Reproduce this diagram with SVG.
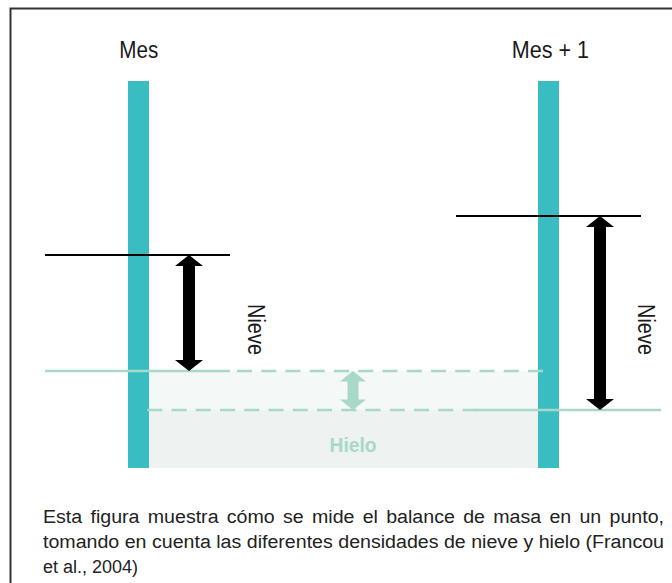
<svg xmlns="http://www.w3.org/2000/svg" width="672" height="583" viewBox="0 0 672 583">
  <style>
    .lbl { font-family: "Liberation Sans", Arial, sans-serif; fill: #1a1a1a; }
    .cap { font-family: "Liberation Sans", Arial, sans-serif; fill: #222; font-size: 18px; }
    .pole { fill: #3abdc2; }
    .blk { stroke: #000; stroke-width: 2; fill: none; }
    .grn { stroke: #a8d8c8; stroke-width: 2.5; fill: none; }
    .dash { stroke-dasharray: 15 9.25; }
  </style>
  <rect x="0" y="0" width="672" height="583" fill="#fff"/>
  <!-- frame -->
  <g id="frame">
    <path d="M10.5 583 V8.5 H672" stroke="#333" stroke-width="2" fill="none"/>
  </g>
  <!-- ice area fills -->
  <g id="ice-area">
    <rect x="149" y="371" width="389" height="39" fill="#f4f8f7"/>
    <rect x="149" y="410" width="389" height="58" fill="#eef2f1"/>
    <text class="lbl" x="329.5" y="451.7" font-size="20" font-weight="bold" textLength="47" lengthAdjust="spacingAndGlyphs" style="fill:#a8d8c8">Hielo</text>
  </g>
  <!-- poles -->
  <g id="pole-mes">
    <rect class="pole" x="128" y="81" width="21" height="387"/>
    <text class="lbl" x="119.3" y="58.3" font-size="23" textLength="39" lengthAdjust="spacingAndGlyphs">Mes</text>
  </g>
  <g id="pole-mes1">
    <rect class="pole" x="538" y="81" width="21" height="387"/>
    <text class="lbl" x="511.7" y="58.3" font-size="23" textLength="77.3" lengthAdjust="spacingAndGlyphs">Mes + 1</text>
  </g>
  <!-- levels and arrows -->
  <g id="connectors">
    <line class="blk" x1="45" y1="255" x2="230" y2="255"/>
    <line class="blk" x1="456" y1="216" x2="641" y2="216"/>
    <line class="grn" x1="45" y1="371" x2="230" y2="371"/>
    <line class="grn dash" x1="237" y1="371" x2="543" y2="371"/>
    <line class="grn dash" x1="147.3" y1="410" x2="477" y2="410"/>
    <line class="grn" x1="476" y1="410" x2="661" y2="410"/>
    <polygon fill="#000" points="189,255 203,266 195,266 195,360 203,360 189,371 175,360 183,360 183,266 175,266"/>
    <polygon fill="#000" points="600,216 614,227 606,227 606,399 614,399 600,410 586,399 594,399 594,227 586,227"/>
    <polygon fill="#a8d8c8" points="353,371 366,381.5 358.5,381.5 358.5,399.5 366,399.5 353,410 340,399.5 347.5,399.5 347.5,381.5 340,381.5"/>
  </g>
  <g id="nieve-labels">
    <text class="lbl" transform="translate(248,304) rotate(90)" x="0" y="0" font-size="23" textLength="51" lengthAdjust="spacingAndGlyphs">Nieve</text>
    <text class="lbl" transform="translate(638,304) rotate(90)" x="0" y="0" font-size="23" textLength="51" lengthAdjust="spacingAndGlyphs">Nieve</text>
  </g>
  <!-- caption -->
  <g id="caption">
    <text class="cap" x="43" y="523.3" word-spacing="2.6" textLength="621" lengthAdjust="spacingAndGlyphs">Esta figura muestra cómo se mide el balance de masa en un punto,</text>
    <text class="cap" x="43" y="548.3" textLength="621" lengthAdjust="spacingAndGlyphs">tomando en cuenta las diferentes densidades de nieve y hielo (Francou</text>
    <text class="cap" x="43" y="573.3" textLength="95" lengthAdjust="spacingAndGlyphs">et al., 2004)</text>
  </g>
</svg>
